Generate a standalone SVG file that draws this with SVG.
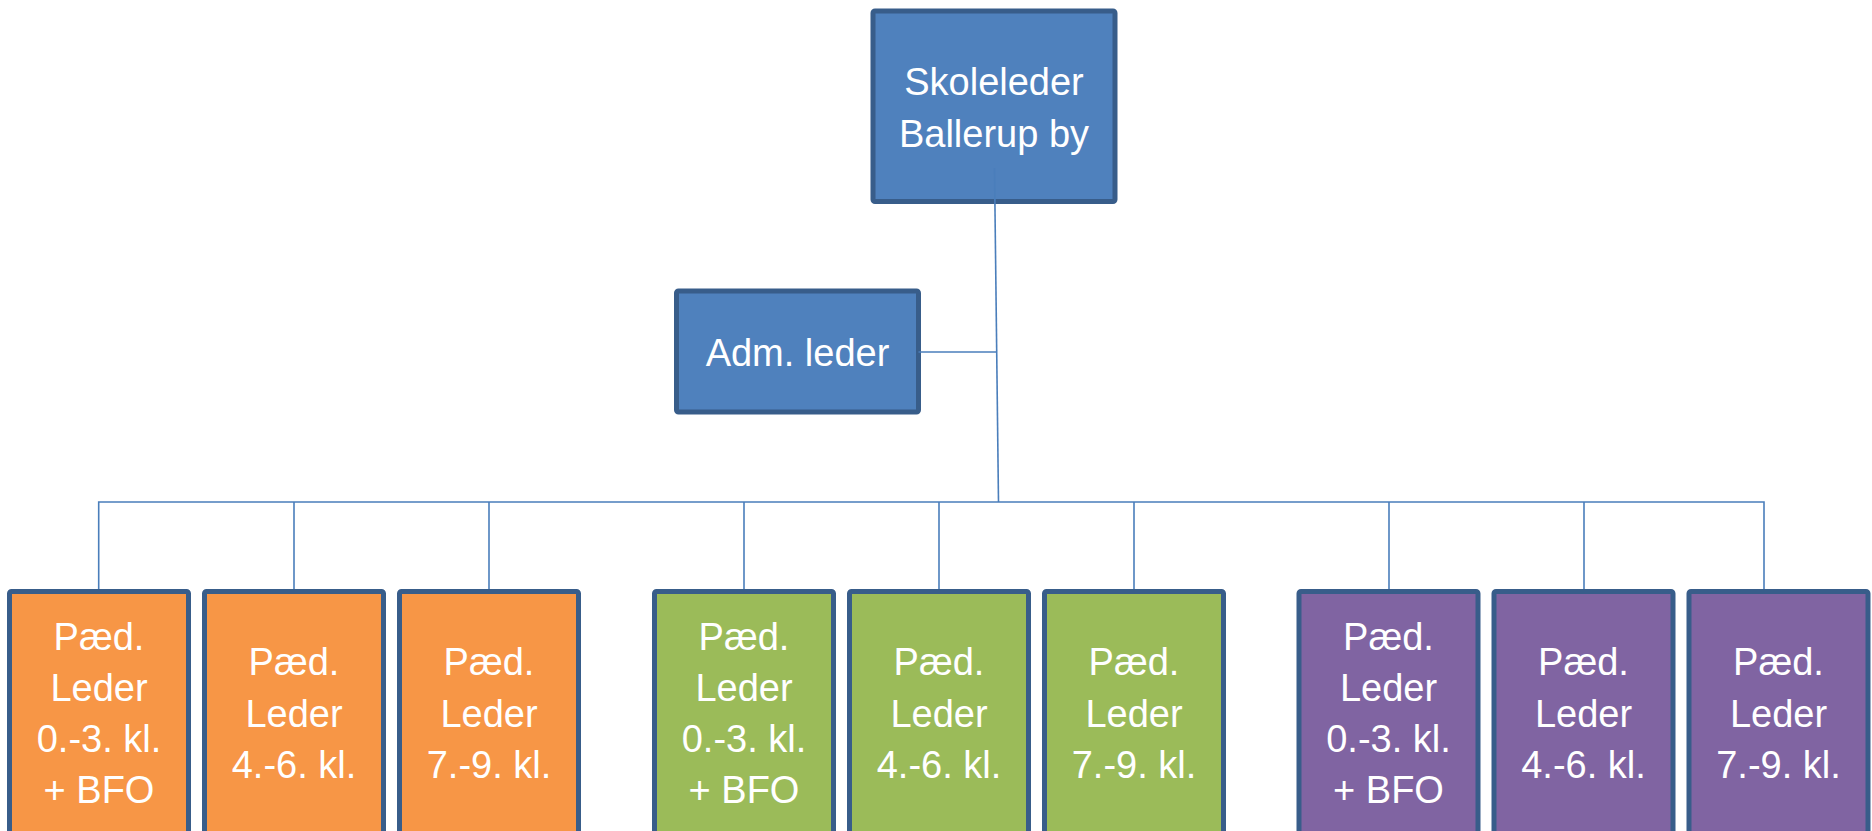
<svg xmlns="http://www.w3.org/2000/svg" width="1872" height="831" viewBox="0 0 1872 831">
<style>
.box{stroke:#385D8A;stroke-width:5;}
.blue{fill:#4F81BD;}
.orange{fill:#F79646;}
.green{fill:#9BBB59;}
.purple{fill:#8064A2;}
text{font-family:"Liberation Sans",Arial,sans-serif;font-size:38px;fill:#FFFFFF;text-anchor:middle;}
.conn{stroke:#4A7EBB;stroke-width:1.6;fill:none;}
</style>
<rect width="1872" height="831" fill="#FFFFFF"/>
<g id="skoleleder"><rect class="box blue" x="873" y="11" width="242" height="190.5" rx="2"/><text x="994" y="95">Skoleleder</text><text x="994" y="147">Ballerup by</text></g>
<g id="adm"><rect class="box blue" x="676.5" y="291" width="242" height="121" rx="2"/><text x="797.5" y="366">Adm. leder</text></g>
<g id="o1"><rect class="box orange" x="9.5" y="591.5" width="179" height="250" rx="2"/><text x="99" y="650">Pæd.</text><text x="99" y="701">Leder</text><text x="99" y="752">0.-3. kl.</text><text x="99" y="803">+ BFO</text></g>
<g id="o2"><rect class="box orange" x="204.5" y="591.5" width="179" height="250" rx="2"/><text x="294" y="675">Pæd.</text><text x="294" y="726.5">Leder</text><text x="294" y="777.5">4.-6. kl.</text></g>
<g id="o3"><rect class="box orange" x="399.5" y="591.5" width="179" height="250" rx="2"/><text x="489" y="675">Pæd.</text><text x="489" y="726.5">Leder</text><text x="489" y="777.5">7.-9. kl.</text></g>
<g id="g1"><rect class="box green" x="654.5" y="591.5" width="179" height="250" rx="2"/><text x="744" y="650">Pæd.</text><text x="744" y="701">Leder</text><text x="744" y="752">0.-3. kl.</text><text x="744" y="803">+ BFO</text></g>
<g id="g2"><rect class="box green" x="849.5" y="591.5" width="179" height="250" rx="2"/><text x="939" y="675">Pæd.</text><text x="939" y="726.5">Leder</text><text x="939" y="777.5">4.-6. kl.</text></g>
<g id="g3"><rect class="box green" x="1044.5" y="591.5" width="179" height="250" rx="2"/><text x="1134" y="675">Pæd.</text><text x="1134" y="726.5">Leder</text><text x="1134" y="777.5">7.-9. kl.</text></g>
<g id="p1"><rect class="box purple" x="1299" y="591.5" width="179" height="250" rx="2"/><text x="1388.5" y="650">Pæd.</text><text x="1388.5" y="701">Leder</text><text x="1388.5" y="752">0.-3. kl.</text><text x="1388.5" y="803">+ BFO</text></g>
<g id="p2"><rect class="box purple" x="1494" y="591.5" width="179" height="250" rx="2"/><text x="1583.5" y="675">Pæd.</text><text x="1583.5" y="726.5">Leder</text><text x="1583.5" y="777.5">4.-6. kl.</text></g>
<g id="p3"><rect class="box purple" x="1689" y="591.5" width="179" height="250" rx="2"/><text x="1778.5" y="675">Pæd.</text><text x="1778.5" y="726.5">Leder</text><text x="1778.5" y="777.5">7.-9. kl.</text></g>
<g id="connectors">
<line class="conn" x1="994.5" y1="168" x2="998.5" y2="502"/>
<line class="conn" x1="918.5" y1="352" x2="996.5" y2="352"/>
<polyline class="conn" points="98.7,589 98.7,502 1764,502 1764,589"/>
<line class="conn" x1="294" y1="502" x2="294" y2="589"/>
<line class="conn" x1="489" y1="502" x2="489" y2="589"/>
<line class="conn" x1="744" y1="502" x2="744" y2="589"/>
<line class="conn" x1="939" y1="502" x2="939" y2="589"/>
<line class="conn" x1="1134" y1="502" x2="1134" y2="589"/>
<line class="conn" x1="1389" y1="502" x2="1389" y2="589"/>
<line class="conn" x1="1584" y1="502" x2="1584" y2="589"/>
</g>
</svg>
